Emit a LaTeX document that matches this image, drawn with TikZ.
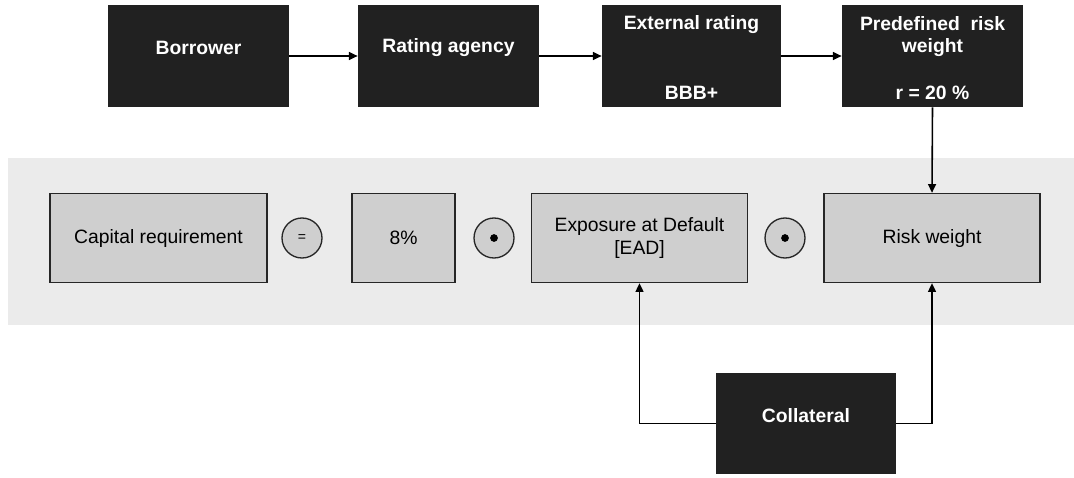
\documentclass[tikz,border=0pt]{standalone}
\usepackage{fontspec}
\setmainfont{Liberation Sans}
\usetikzlibrary{arrows.meta}
\tikzset{
  darkbox/.style={fill=black!87, minimum width=3.62cm, minimum height=2.04cm, inner sep=0pt},
  darktext/.style={text=white, font=\fontsize{11pt}{13pt}\selectfont\bfseries, inner sep=0pt, align=center},
  graybox/.style={draw=black!85, line width=0.75pt, fill=black!19, minimum width=4.32cm, minimum height=1.78cm, inner sep=0pt, align=center},
  opcircle/.style={circle, draw=black!85, line width=0.75pt, fill=black!19, minimum size=0.8cm, inner sep=0pt},
  flow/.style={line width=0.9pt, -{Triangle[length=5pt,width=4.5pt]}},
}
\begin{document}
\begin{tikzpicture}[x=0.02cm, y=-0.02cm, font=\fontsize{11pt}{13pt}\selectfont]
    \useasboundingbox (0,0) rectangle (1074,477);
    % Hintergrund
    \fill[black!8] (8,158) rectangle (1074,325);
    % obere Reihe
    \node[darkbox] (borrower) at (198.5,56) {};
    \node[darktext] (borrowerlbl) at (198.5,48) {Borrower};
    \node[darkbox] (agency) at (448.5,56) {};
    \node[darktext] (agencylbl) at (448.5,48) {Rating agency};
    \node[darkbox, minimum width=3.58cm] (extrating) at (691.5,56) {};
    \node[darktext] (extratinglbl) at (691.5,25) {External rating};
    \node[darktext] (bbb) at (691.5,93) {BBB+};
    \node[darkbox] (predef) at (932.5,56) {};
    \node[darktext] (predeflbl) at (932.5,36.5) {Predefined~~risk\\weight};
    \node[darktext] (rval) at (932.5,93) {r = 20 \%};
    % Formel
    \node[graybox, minimum width=4.34cm] (capreq) at (158.5,238) {Capital requirement};
    \node[opcircle] (eq) at (302,238) {\footnotesize =};
    \node[graybox, minimum width=2.06cm] (pct) at (403.5,238) {8\%};
    \node[opcircle] (dota) at (494,238) {};
    \node[graybox] (ead) at (639.5,238) {Exposure at Default\\{[EAD]}};
    \node[opcircle] (dotb) at (785,238) {};
    \node[graybox] (riskw) at (932,238) {Risk weight};
    \fill (dota) circle (2.2pt);
    \fill (dotb) circle (2.2pt);
    % Sicherheiten
    \node[darkbox, minimum width=3.6cm, minimum height=2.02cm] (collateral) at (806,423.5) {};
    \node[darktext] (collaterallbl) at (806,416) {Collateral};
    % Pfeile
    \draw[flow] (borrower) -- (agency);
    \draw[flow] (agency) -- (extrating);
    \draw[flow] (extrating) -- (predef);
    \draw[flow] (predef.south) -- (riskw.north);
    \draw[flow] (collateral.west) -| (ead.south);
    \draw[flow] (collateral.east) -| (riskw.south);
\end{tikzpicture}
\end{document}
